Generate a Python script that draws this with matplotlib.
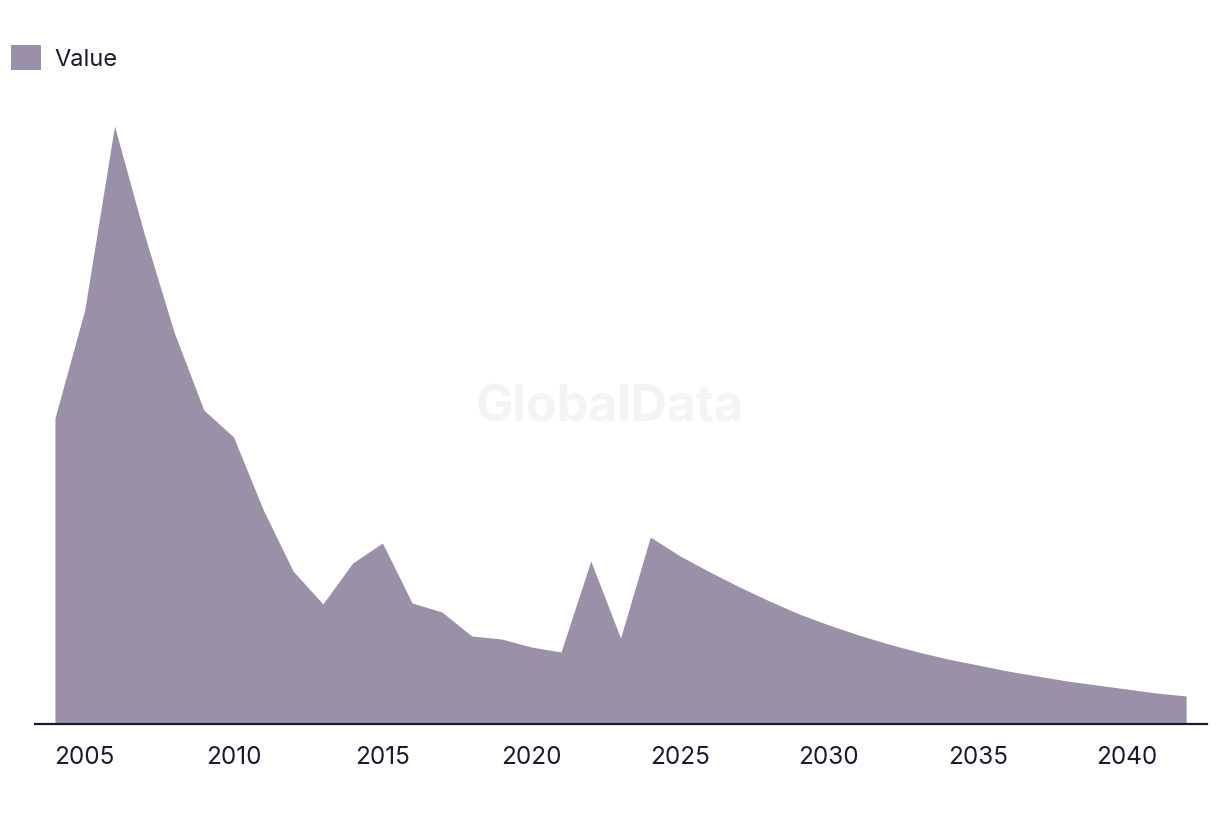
import matplotlib.pyplot as plt
from matplotlib.patches import Patch

# dados
anos = list(range(2004, 2043))
valores = [306, 414, 598, 490, 392, 314, 287, 214, 153, 120,
           161, 181, 121, 112, 88, 85, 77, 72, 163, 86,
           187, 168, 152, 137, 123, 110, 99, 89, 80, 72,
           65, 59, 53, 48, 43, 39, 35, 31, 28]
ticks = [2005, 2010, 2015, 2020, 2025, 2030, 2035, 2040]

cor_area = '#9a91a9'
cor_texto = '#1c1a33'

plt.rcParams['font.family'] = ['Inter', 'DejaVu Sans']

fig = plt.figure(figsize=(12.2, 8.14), dpi=100)
ax = fig.add_axes([35 / 1220, 90 / 814, 1172 / 1220, 620 / 814])

ax.fill_between(anos, valores, 0, color=cor_area, linewidth=0)
ax.set_xlim(2003.33, 2042.7)
ax.set_ylim(0, 620)

for lado in ['top', 'right', 'left']:
    ax.spines[lado].set_visible(False)
ax.spines['bottom'].set_color(cor_texto)
ax.spines['bottom'].set_linewidth(1.6)
ax.set_yticks([])
ax.set_xticks(ticks)
ax.set_xticklabels([str(t) for t in ticks])
ax.tick_params(axis='x', length=0, pad=16, labelsize=17.5, labelcolor=cor_texto)

# marca d'agua
fig.text(610 / 1220, 1 - 408 / 814, 'GlobalData', ha='center', va='center',
         fontsize=36, fontweight='bold', color='#f4f4f4', zorder=0)

fig.legend(handles=[Patch(facecolor=cor_area, edgecolor='none', label='Value')],
           loc='center left', bbox_to_anchor=(2 / 1220, 1 - 58 / 814),
           frameon=False, fontsize=17, labelcolor=cor_texto,
           handlelength=1.25, handleheight=1.25, handletextpad=0.55, borderaxespad=0)

plt.savefig('out.png', dpi=100)
